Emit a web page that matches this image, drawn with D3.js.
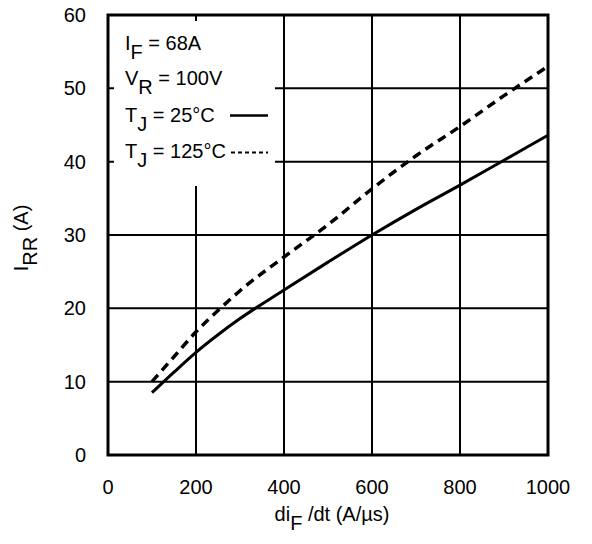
<!DOCTYPE html>
<html>
<head>
<meta charset="utf-8">
<script src="https://cdn.jsdelivr.net/npm/d3@7"></script>
<style>
body { margin: 0; background: #fff; }
text { font-family: "Liberation Sans", Arial, sans-serif; fill: #000; }
</style>
</head>
<body>
<div id="chart"></div>
<script>
// values
var xTicks = [0, 200, 400, 600, 800, 1000];
var yTicks = [0, 10, 20, 30, 40, 50, 60];
var didt = [100, 150, 200, 250, 300, 400, 500, 600, 700, 800, 900, 1000];
var irr25 = [8.5, 11.3, 14, 16.4, 18.6, 22.5, 26.3, 30, 33.5, 36.8, 40.2, 43.6];
var irr125 = [10, 13.4, 16.8, 19.7, 22.4, 27, 31.4, 36.3, 40.8, 44.8, 49, 53];

var svgWidth = 592, svgHeight = 544;
var plotLeft = 108, plotTop = 15, plotRight = 548, plotBottom = 455;
var fontSize = "20px";

var svg = d3.select("#chart").append("svg")
    .attr("width", svgWidth)
    .attr("height", svgHeight);

var x = d3.scaleLinear().domain([0, 1000]).range([plotLeft, plotRight]);
var y = d3.scaleLinear().domain([0, 60]).range([plotBottom, plotTop]);

// grid
var grid = svg.append("g");
grid.selectAll(".vg").data(xTicks.slice(1, -1)).enter().append("line")
    .attr("x1", function(d) { return x(d); }).attr("x2", function(d) { return x(d); })
    .attr("y1", plotTop).attr("y2", plotBottom)
    .attr("stroke", "#000").attr("stroke-width", 2);
grid.selectAll(".hg").data(yTicks.slice(1, -1)).enter().append("line")
    .attr("x1", plotLeft).attr("x2", plotRight)
    .attr("y1", function(d) { return y(d); }).attr("y2", function(d) { return y(d); })
    .attr("stroke", "#000").attr("stroke-width", 2);

// legend box hides the grid behind the text
svg.append("rect")
    .attr("x", 114).attr("y", 21)
    .attr("width", 161).attr("height", 165)
    .attr("fill", "#fff");

// curves
var line = d3.line()
    .x(function(d) { return x(d[0]); })
    .y(function(d) { return y(d[1]); })
    .curve(d3.curveMonotoneX);

svg.append("path")
    .datum(d3.zip(didt, irr25))
    .attr("d", line)
    .attr("fill", "none").attr("stroke", "#000").attr("stroke-width", 3);

svg.append("path")
    .datum(d3.zip(didt, irr125))
    .attr("d", line)
    .attr("fill", "none").attr("stroke", "#000").attr("stroke-width", 3.5)
    .attr("stroke-dasharray", "9,6");

// frame
svg.append("rect")
    .attr("x", plotLeft).attr("y", plotTop)
    .attr("width", plotRight - plotLeft).attr("height", plotBottom - plotTop)
    .attr("fill", "none").attr("stroke", "#000").attr("stroke-width", 3);

// tick labels
svg.selectAll(".xl").data(xTicks).enter().append("text")
    .attr("x", function(d) { return x(d); })
    .attr("y", 494)
    .attr("text-anchor", "middle")
    .style("font-size", fontSize)
    .text(function(d) { return d; });

svg.selectAll(".yl").data(yTicks).enter().append("text")
    .attr("x", 86)
    .attr("y", function(d) { return y(d) + 7; })
    .attr("text-anchor", "end")
    .style("font-size", fontSize)
    .text(function(d) { return d; });

// axis titles
var xt = svg.append("text")
    .attr("x", 332).attr("y", 521)
    .attr("text-anchor", "middle")
    .style("font-size", fontSize);
xt.append("tspan").text("di");
xt.append("tspan").attr("dy", 9).text("F");
xt.append("tspan").attr("dy", -9).text(" /dt (A/\u00b5s)");

var yt = svg.append("text")
    .attr("transform", "translate(28," + 238 + ") rotate(-90)")
    .attr("text-anchor", "middle")
    .style("font-size", fontSize);
yt.append("tspan").text("I");
yt.append("tspan").attr("dy", 9).text("RR");
yt.append("tspan").attr("dy", -9).text(" (A)");

// legend
var legendRows = [
    {main: "I", sub: "F", rest: " = 68A", y: 50},
    {main: "V", sub: "R", rest: " = 100V", y: 85},
    {main: "T", sub: "J", rest: " = 25\u00b0C", y: 121.5},
    {main: "T", sub: "J", rest: " = 125\u00b0C", y: 158}
];
legendRows.forEach(function(r) {
    var t = svg.append("text").attr("x", 125).attr("y", r.y).style("font-size", fontSize);
    t.append("tspan").text(r.main);
    t.append("tspan").attr("dy", 9).text(r.sub);
    t.append("tspan").attr("dy", -9).text(r.rest);
});

svg.append("line")
    .attr("x1", 230).attr("x2", 268).attr("y1", 115.5).attr("y2", 115.5)
    .attr("stroke", "#000").attr("stroke-width", 2.5);
svg.append("line")
    .attr("x1", 231).attr("x2", 268).attr("y1", 152.5).attr("y2", 152.5)
    .attr("stroke", "#000").attr("stroke-width", 2)
    .attr("stroke-dasharray", "4,3");
</script>
</body>
</html>
